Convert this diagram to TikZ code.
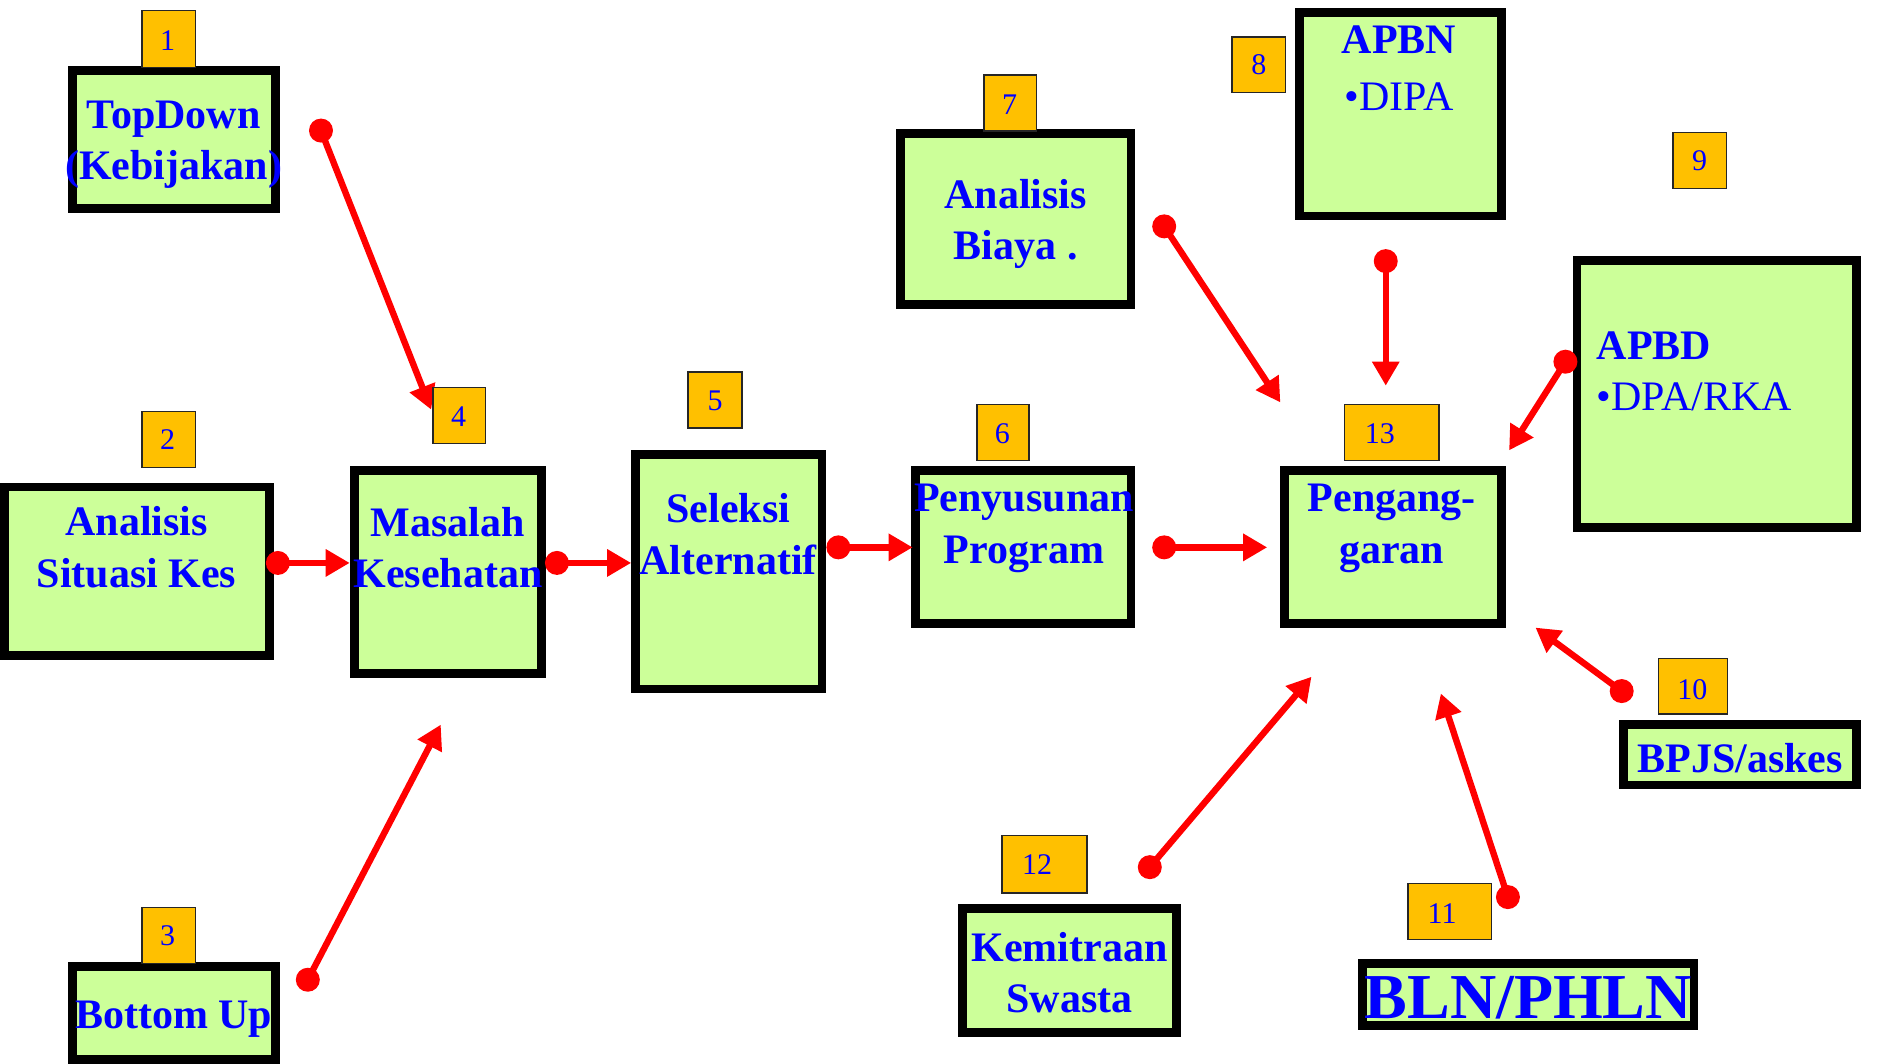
\documentclass[tikz,border=0pt]{standalone}
\usepackage{fontspec}
\setmainfont{Liberation Serif}
\usetikzlibrary{arrows.meta,fit}
\definecolor{boxfill}{HTML}{CCFF99}
\definecolor{badgefill}{HTML}{FFC000}
\definecolor{txtblue}{HTML}{0000FF}
\definecolor{linkred}{HTML}{FF0000}

\begin{document}
\begin{tikzpicture}[x=0.59885pt,y=-0.59885pt,
  box/.style={draw=black, line width=4.4pt, fill=boxfill, inner sep=-2.2pt},
  badge/.style={draw=black!85, line width=0.8pt, fill=badgefill, inner sep=-0.4pt},
  num/.style={text=txtblue, font=\fontsize{15}{18}\selectfont, inner sep=0pt},
  boxtext/.style={text=txtblue, font=\bfseries\fontsize{21}{25.7}\selectfont, align=center, inner sep=0pt},
  dot/.style={circle, fill=linkred, minimum size=12pt, inner sep=0pt},
  link/.style={draw=linkred, line width=3.2pt, -{Triangle[length=12pt,width=13pt]}},
]
\useasboundingbox (0,0) rectangle (1568,888);

% ---- boxes ----
\node[box, fit={(57,55) (234,178)}]     (b1)  {};
\node[box, fit={(0,403) (229,551)}]     (b2)  {};
\node[box, fit={(57,803) (234,888)}]    (b3)  {};
\node[box, fit={(292,389) (456,566)}]   (b4)  {};
\node[box, fit={(527,376) (690,579)}]   (b5)  {};
\node[box, fit={(761,389) (948,524)}]   (b6)  {};
\node[box, fit={(748,108) (948,258)}]   (b7)  {};
\node[box, fit={(1081,7) (1257,184)}]   (b8)  {};
\node[box, fit={(1313,214) (1554,444)}] (b9)  {};
\node[box, fit={(1352,601) (1554,659)}] (b10) {};
\node[box, fit={(1134,801) (1418,860)}] (b11) {};
\node[box, fit={(800,755) (986,866)}]   (b12) {};
\node[box, fit={(1069,389) (1257,524)}] (b13) {};

% ---- connectors ----
\node[dot] (d1)  at (268,109)  {}; \coordinate (e1)  at (360,342);
\node[dot] (d2)  at (232,470)  {}; \coordinate (e2)  at (292,470);
\node[dot] (d3)  at (465,470)  {}; \coordinate (e3)  at (527,470);
\node[dot] (d4)  at (700,457)  {}; \coordinate (e4)  at (762,457);
\node[dot] (d5)  at (972,457)  {}; \coordinate (e5)  at (1058,457);
\node[dot] (d6)  at (972,189)  {}; \coordinate (e6)  at (1069,336);
\node[dot] (d7)  at (1157,218) {}; \coordinate (e7)  at (1157,322);
\node[dot] (d8)  at (1307,302) {}; \coordinate (e8)  at (1260,376);
\node[dot] (d9)  at (1354,577) {}; \coordinate (e9)  at (1282,524);
\node[dot] (d10) at (1259,749) {}; \coordinate (e10) at (1203,579);
\node[dot] (d11) at (960,724)  {}; \coordinate (e11) at (1095,565);
\node[dot] (d12) at (257,818)  {}; \coordinate (e12) at (368,605);
\foreach \i in {1,...,12} { \draw[link] (d\i.center) -- (e\i); }

% ---- number badges ----
\node[badge, fit={(118,8) (164,57)}]      (g1)  {};
\node[badge, fit={(118,343) (164,391)}]   (g2)  {};
\node[badge, fit={(118,757) (164,805)}]   (g3)  {};
\node[badge, fit={(361,323) (406,371)}]   (g4)  {};
\node[badge, fit={(574,310) (620,358)}]   (g5)  {};
\node[badge, fit={(815,337) (860,385)}]   (g6)  {};
\node[badge, fit={(821,62) (866,110)}]    (g7)  {};
\node[badge, fit={(1028,30) (1074,78)}]   (g8)  {};
\node[badge, fit={(1396,110) (1442,158)}] (g9)  {};
\node[badge, fit={(1384,549) (1443,597)}] (g10) {};
\node[badge, fit={(1175,737) (1246,785)}] (g11) {};
\node[badge, fit={(836,697) (908,746)}]   (g12) {};
\node[badge, fit={(1122,337) (1202,385)}] (g13) {};

\node[num] (n1)  at (140,34)   {1};
\node[num] (n2)  at (140,367)  {2};
\node[num] (n3)  at (140,781)  {3};
\node[num] (n4)  at (383,348)  {4};
\node[num] (n5)  at (597,335)  {5};
\node[num] (n6)  at (837,362)  {6};
\node[num] (n7)  at (843,87)   {7};
\node[num] (n8)  at (1051,54)  {8};
\node[num] (n9)  at (1419,134) {9};
\node[num] (n10) at (1413,576) {10};
\node[num] (n11) at (1204,763) {11};
\node[num] (n12) at (866,722)  {12};
\node[num] (n13) at (1152,362) {13};

% ---- box texts ----
\node[boxtext] (t1)  at (145,121)  {TopDown\\(Kebijakan)};
\node[boxtext] (t2)  at (114,457)  {Analisis\\Situasi Kes};
\node[boxtext] (t3)  at (145,851)  {Bottom Up};
\node[boxtext] (t4)  at (374,457)  {Masalah\\Kesehatan};
\node[boxtext] (t5)  at (608,446)  {Seleksi\\Alternatif};
\node[boxtext] (t6)  at (855,441)  {Penyusunan\\Program};
\node[boxtext] (t7)  at (848,187)  {Analisis\\Biaya .};
\node[boxtext] (t8)  at (1168,57)  {APBN\\[2.5pt]\mdseries •DIPA};
\node[boxtext, align=left, anchor=west] (t9) at (1333,310) {APBD\\\mdseries •DPA/RKA};
\node[boxtext] (t10) at (1453,633) {BPJS/askes};
\node[boxtext, font=\bfseries\fontsize{32}{38}\selectfont] (t11) at (1276,833) {BLN/PHLN};
\node[boxtext] (t12) at (893,812)  {Kemitraan\\Swasta};
\node[boxtext] (t13) at (1162,441) {Pengang-\\garan};
\end{tikzpicture}
\end{document}
